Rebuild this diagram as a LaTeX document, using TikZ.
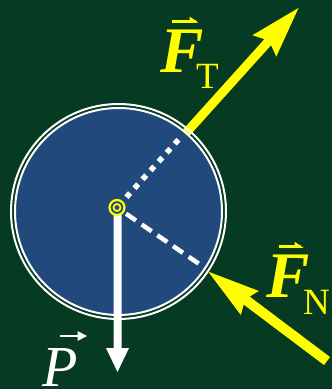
\documentclass[tikz,border=0pt]{standalone}
\usepackage{fontspec}
\setmainfont{Liberation Serif}
\usetikzlibrary{calc}
\definecolor{bggreen}{RGB}{6,58,34}
\definecolor{wheelblue}{RGB}{33,73,124}
\definecolor{fyellow}{RGB}{255,255,0}
\tikzset{
  biglbl/.style={inner sep=0pt, anchor=base west, font=\fontsize{65}{65}\selectfont\bfseries\itshape, fyellow},
  sublbl/.style={inner sep=0pt, anchor=base west, font=\fontsize{37}{37}\selectfont, fyellow},
  ringline/.style={white, line width=2pt},
}
\begin{document}
\begin{tikzpicture}[x=1pt,y=-1pt]
\useasboundingbox (0,0) rectangle (332,389);
\fill[bggreen] (0,0) rectangle (332,389);
% key points
\coordinate (C) at (118.5,211.5);
\coordinate (M) at (117,207.5);
\coordinate (Ts) at (176,144);
\coordinate (Tt) at (298.5,8);
\coordinate (Ns) at (327,361);
\coordinate (Nt) at (208.3,271.7);
\coordinate (Ps) at (117.5,215);
\coordinate (Pt) at (117.5,372);
\coordinate (Td) at (180,138);
\coordinate (Nd) at (205,268);
% tension force (under the wheel)
\coordinate (TN) at ($(Tt)!46pt!(Ts)$);
\coordinate (TB) at ($(Tt)!51pt!(Ts)$);
\fill[fyellow] ($(Ts)!4.5pt!90:(Tt)$) -- ($(TN)!4.5pt!90:(Tt)$) -- ($(TB)!16pt!90:(Tt)$) -- (Tt)
  -- ($(TB)!16pt!-90:(Tt)$) -- ($(TN)!4.5pt!-90:(Tt)$) -- ($(Ts)!4.5pt!-90:(Tt)$) -- cycle;
% wheel
\fill[wheelblue] (C) circle (103.5);
\draw[ringline] (C) circle (103.5);
\draw[ringline] (C) circle (107.5);
% normal force
\coordinate (NN) at ($(Nt)!48pt!(Ns)$);
\coordinate (NB) at ($(Nt)!52pt!(Ns)$);
\fill[fyellow] ($(Ns)!5pt!90:(Nt)$) -- ($(NN)!5pt!90:(Nt)$) -- ($(NB)!15pt!90:(Nt)$) -- (Nt)
  -- ($(NB)!15pt!-90:(Nt)$) -- ($(NN)!5pt!-90:(Nt)$) -- ($(Ns)!5pt!-90:(Nt)$) -- cycle;
% radius lines
\draw[white, line width=5.5pt, dash pattern=on 5.5pt off 6.5pt, dash phase=-2pt] ($(M)!12pt!(Td)$) -- (Td);
\draw[white, line width=4.5pt, dash pattern=on 12pt off 7pt] ($(M)!11pt!(Nd)$) -- (Nd);
% weight
\coordinate (PB) at ($(Pt)!24pt!(Ps)$);
\fill[white] ($(Ps)!4pt!90:(Pt)$) -- ($(PB)!4pt!90:(Pt)$) -- ($(PB)!11.5pt!90:(Pt)$) -- (Pt)
  -- ($(PB)!11.5pt!-90:(Pt)$) -- ($(PB)!4pt!-90:(Pt)$) -- ($(Ps)!4pt!-90:(Pt)$) -- cycle;
% center marker
\draw[fyellow, line width=2.2pt] (M) circle (7.5);
\draw[fyellow, line width=1.8pt] (M) circle (3.5);
% labels
\node[biglbl] (ft) at (160,72) {F};
\node[sublbl] (tsub) at (196,88) {T};
\coordinate (ftva) at (172,21.3);
\coordinate (ftvb) at (196,21.3);
\draw[fyellow, line width=2.6pt] (ftva) -- (ftvb);
\fill[fyellow] (189.5,16.5) -- (198.5,22.6) -- (189.5,22.6) -- cycle;
\node[biglbl] (fn) at (266,297) {F};
\node[sublbl] (nsub) at (303,314) {N};
\coordinate (fnva) at (278.5,246.5);
\coordinate (fnvb) at (301,246.5);
\draw[fyellow, line width=2.6pt] (fnva) -- (fnvb);
\fill[fyellow] (294.5,241.7) -- (303.5,247.8) -- (294.5,247.8) -- cycle;
\node[inner sep=0pt, anchor=base west, font=\fontsize{58}{58}\selectfont\itshape, white] (p) at (42,386.5) {P};
\coordinate (pva) at (60,336);
\coordinate (pvb) at (80,336);
\draw[white, line width=2.2pt] (pva) -- (pvb);
\fill[white] (77.5,331) -- (87,336) -- (77.5,341) -- cycle;
\end{tikzpicture}
\end{document}
